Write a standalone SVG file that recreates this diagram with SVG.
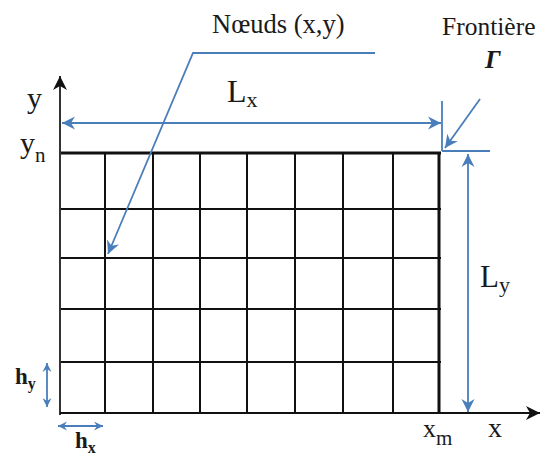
<svg xmlns="http://www.w3.org/2000/svg" width="544" height="455" viewBox="0 0 544 455">
<defs>
<style>
.t{font-family:"Liberation Serif","Times New Roman",serif;fill:#1a1a1a}
.grid line{stroke:#111;stroke-width:2}
.blue{stroke:#4a7ebb;stroke-width:1.8;fill:none}
</style>
<marker id="ab" viewBox="-14 -7 15 14" markerWidth="15" markerHeight="14" refX="0" refY="0" orient="auto-start-reverse" markerUnits="userSpaceOnUse">
<path d="M0,0 L-13,-6.5 L-9,0 L-13,6.5 z" fill="#4a7ebb"/>
</marker>
<marker id="abs" viewBox="-10 -6 11 12" markerWidth="11" markerHeight="12" refX="0" refY="0" orient="auto-start-reverse" markerUnits="userSpaceOnUse">
<path d="M0,0 L-9,-4.5 L-6,0 L-9,4.5 z" fill="#4a7ebb"/>
</marker>
<marker id="ak" viewBox="-15 -8 16 16" markerWidth="16" markerHeight="16" refX="0" refY="0" orient="auto" markerUnits="userSpaceOnUse">
<path d="M0,0 L-14,-7 L-10,0 L-14,7 z" fill="#111"/>
</marker>
</defs>
<rect width="544" height="455" fill="#fff"/>

<g id="grid" class="grid">
<line x1="105" y1="153" x2="105" y2="413"/>
<line x1="153" y1="153" x2="153" y2="413"/>
<line x1="200" y1="153" x2="200" y2="413"/>
<line x1="247" y1="153" x2="247" y2="413"/>
<line x1="295" y1="153" x2="295" y2="413"/>
<line x1="343" y1="153" x2="343" y2="413"/>
<line x1="393" y1="153" x2="393" y2="413"/>
<line x1="60" y1="209" x2="441" y2="209"/>
<line x1="60" y1="258" x2="441" y2="258"/>
<line x1="60" y1="309" x2="441" y2="309"/>
<line x1="60" y1="362" x2="441" y2="362"/>
<line x1="60" y1="153" x2="441" y2="153" style="stroke-width:3"/>
<line x1="439" y1="153" x2="439" y2="413" style="stroke-width:3"/>
</g>

<g id="axes">
<line x1="60" y1="415" x2="60" y2="76" stroke="#333" stroke-width="2" marker-end="url(#ak)"/>
<line x1="60" y1="413" x2="540" y2="413" stroke="#111" stroke-width="2.2" marker-end="url(#ak)"/>
</g>

<g id="connectors">
<line class="blue" x1="62" y1="123" x2="441" y2="123" marker-start="url(#ab)" marker-end="url(#ab)"/>
<line class="blue" x1="442" y1="101" x2="442" y2="151"/>
<line class="blue" x1="442" y1="151" x2="490" y2="151"/>
<line class="blue" x1="468" y1="154" x2="468" y2="412" marker-start="url(#ab)" marker-end="url(#ab)"/>
<line class="blue" x1="480" y1="99" x2="445" y2="148" marker-end="url(#ab)"/>
<polyline class="blue" points="375,53 193,53 108,254" marker-end="url(#ab)"/>
<line class="blue" x1="47" y1="363" x2="47" y2="407" marker-start="url(#abs)" marker-end="url(#abs)"/>
<line class="blue" x1="58" y1="426" x2="103" y2="426" marker-start="url(#abs)" marker-end="url(#abs)"/>
</g>

<g id="labels">
<text class="t" x="212" y="33" font-size="26.5">Nœuds (x,y)</text>
<text class="t" x="442" y="35" font-size="25.5">Frontière</text>
<text class="t" x="485" y="68" font-size="26" font-weight="bold" font-style="italic">Γ</text>
<text class="t" x="227" y="102" font-size="32">L<tspan font-size="22" dy="5">x</tspan></text>
<text class="t" x="480" y="287" font-size="31">L<tspan font-size="22" dy="5">y</tspan></text>
<text class="t" x="27" y="108" font-size="30">y</text>
<text class="t" x="20" y="153" font-size="30">y<tspan font-size="21" dy="9">n</tspan></text>
<text class="t" x="423" y="437" font-size="26">x<tspan font-size="21" dy="8">m</tspan></text>
<text class="t" x="488" y="437" font-size="28">x</text>
<text class="t" x="15" y="384" font-size="23" font-weight="bold">h<tspan font-size="16" dy="5">y</tspan></text>
<text class="t" x="75" y="448" font-size="23" font-weight="bold">h<tspan font-size="16" dy="5">x</tspan></text>
</g>
</svg>
